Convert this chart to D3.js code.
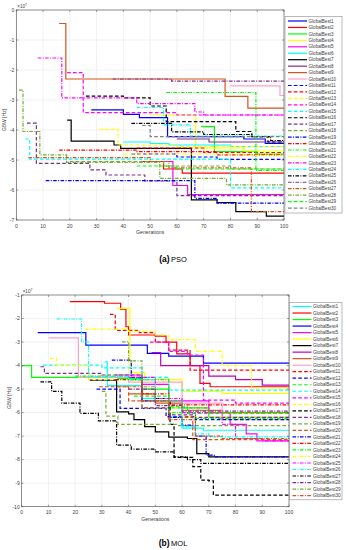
<!DOCTYPE html>
<html>
<head>
<meta charset="utf-8">
<script src="https://cdn.jsdelivr.net/npm/d3@7"></script>
<style>
  body { margin: 0; background: #fff; }
  svg { display: block; }
  text { font-family: "Liberation Sans", Arial, sans-serif; }
</style>
</head>
<body>
<div id="graph"></div>
<script>
// ---- data: [generation, GBW (x1e7 Hz)] breakpoints ----
var genTicks = [0, 10, 20, 30, 40, 50, 60, 70, 80, 90, 100];
var psoYTicks = [0, -1, -2, -3, -4, -5, -6, -7];
var molYTicks = [-1, -2, -3, -4, -5, -6, -7, -8, -9, -10];
var seriesNames = d3.range(1, 31).map(function(i) { return "GlobalBest" + i; });

var psoBest = [
  [[28,-3.33],[40,-3.48],[46,-3.59],[56.5,-4.22],[85,-4.3],[93,-4.45]],
  [[47,-5.05],[55,-5.3],[62,-5.44]],
  [[69,-3.89],[74,-4.72],[90,-4.8]],
  [[50,-3.5],[67,-4.6],[85,-4.7]],
  [[55,-5.05],[58.5,-5.85],[64,-6.15]],
  [[40,-4.4],[50,-4.45],[57,-4.5],[80,-4.55]],
  [[19,-3.67],[20.5,-4.37],[36.5,-4.5],[39,-4.61],[65.4,-6.33],[75,-6.42],[82,-6.72],[93.4,-6.87]],
  [[60,-4.3],[72,-4.4]],
  [[16,-0.45],[18.5,-2.3],[78,-2.88],[86.5,-3.27]],
  [[80,-2.53],[98.5,-2.85]],
  [[43,-4.8],[60,-4.9],[75,-4.98]],
  [[45,-4.6],[70,-4.75]],
  [[31,-3.98],[38,-4.5],[60,-4.55]],
  [[19,-2.09],[25,-3.42],[60,-3.5]],
  [[3.3,-4.3],[5,-4.97],[80,-5.93]],
  [[26,-2.87],[40,-2.93],[50,-3.2],[56,-3.72],[82,-4.05],[88,-4.22],[94,-4.4]],
  [[4,-3.77],[7.5,-5.11],[27.5,-5.33],[33.5,-5.5],[48,-5.7],[60,-6.19]],
  [[20,-5.05],[55,-5.2],[80,-5.3]],
  [[11,-5.69],[66.7,-6.28],[75,-6.44]],
  [[16,-4.67],[45,-4.72],[75,-4.83]],
  [[56,-2.75],[89.5,-5.35]],
  [[40,-4.8],[85,-4.85]],
  [[8,-1.6],[17,-2.93],[45,-3.12],[66.7,-3.4],[70,-3.5]],
  [[45,-3.25],[55,-3.83],[65,-4.2]],
  [[43,-3.78],[58,-4.06],[70,-4.15],[88,-4.22],[95,-4.35]],
  [[36,-2.3],[58,-2.37]],
  [[4.5,-4.92],[50,-5.05],[57,-5.26],[87.8,-6.72]],
  [[1,-2.67],[2.5,-4.05],[8.8,-4.83],[18.8,-5.08],[53.6,-5.61],[78.5,-5.83]],
  [[45,-5.2],[60,-5.3]],
  [[47,-3.85],[50,-4.22]]
];

var molBest = [
  [[31,-3.84],[32,-4.85],[45,-5.4],[55,-6.2],[60,-6.66],[68,-6.75]],
  [[18,-1.28],[31,-1.35],[37,-1.6],[39,-2.35],[40,-2.7],[50,-2.75],[54,-3.0],[58,-3.5],[63,-4.0],[66.7,-4.76],[70.5,-4.9]],
  [[0,-4.0],[3.7,-4.5],[36,-4.55],[45,-5.0],[55,-5.8],[70,-6.2]],
  [[6,-2.6],[24,-3.13],[47,-3.48],[55,-3.6],[68,-3.9]],
  [[35,-4.4],[45,-4.8],[55,-5.5],[70,-6.0],[78,-6.5],[84,-6.9],[88,-7.2]],
  [[35.5,-1.57],[40.5,-4.3],[46,-4.6],[60,-5.1],[75,-5.18]],
  [[25.5,-4.62],[35.5,-5.97],[40,-6.05],[42,-6.3],[46,-6.6],[50,-6.82],[55,-7.04],[62,-7.1],[65.5,-7.74],[70,-7.88]],
  [[48.6,-3.45],[52,-4.0],[60,-4.0],[70,-4.45],[80,-4.6],[90,-4.83]],
  [[40,-5.2],[50,-5.6],[60,-5.9],[75,-6.0]],
  [[10,-2.82],[21.2,-4.5],[40,-4.7],[60,-5.6],[75,-6.3]],
  [[33,-1.82],[35,-2.5],[44,-2.6],[50,-3.0],[55,-3.34],[63,-4.19]],
  [[28,-5.0],[36.8,-5.82],[54,-6.18],[65,-6.3]],
  [[42,-5.3],[55,-5.75],[62,-6.03]],
  [[8,-3.98],[30,-4.1],[45,-4.5],[55,-5.04]],
  [[48,-3.0],[55,-3.4],[62,-3.55],[68,-5.47],[80,-5.6]],
  [[10.6,-3.69],[13,-4.0],[25,-4.6],[45,-5.8],[60,-6.2]],
  [[50,-5.4],[55.5,-6.5],[57,-7.9],[64,-8.3],[67,-8.87],[70,-8.9],[71.7,-9.51]],
  [[7,-4.05],[8.5,-4.33],[30,-4.4],[45,-5.8],[55,-6.1],[65,-6.2]],
  [[30,-5.1],[31.5,-6.15],[36,-6.5],[58,-6.55]],
  [[29,-4.9],[40,-5.5],[55,-6.2],[64,-7.15]],
  [[33.7,-3.77],[41,-4.5],[45,-5.5],[55,-6.2],[60,-6.53],[65,-7.0],[69,-7.81],[72,-7.88]],
  [[35,-4.6],[45,-5.2],[55,-5.67]],
  [[20,-4.45],[40,-4.6],[55,-6.0],[65,-6.25]],
  [[23.7,-2.45],[40,-2.55],[50,-2.7],[55,-2.9],[65,-3.4],[75,-4.0],[86,-4.96]],
  [[40,-4.5],[50,-5.4],[60,-6.0],[75,-6.5],[80,-7.1],[90,-7.2]],
  [[13,-2.02],[22.4,-2.99],[25,-4.48],[40,-4.6],[50,-5.5],[60,-6.6],[65,-6.9],[70,-7.03]],
  [[7,-4.69],[11.2,-5.1],[15,-5.6],[21.8,-6.03],[28.7,-6.35],[35.5,-7.38],[41,-7.55],[50,-7.67],[57,-7.88],[62,-8.0],[67,-8.16]],
  [[40,-5.0],[50,-5.7],[60,-5.94]],
  [[37.5,-2.99],[40,-3.8],[45,-4.9],[50,-5.5],[60,-5.8],[70,-6.0]],
  [[36,-4.9],[45,-5.5],[55,-6.3],[65,-7.0],[75,-7.1]]
];

// ---- styles ----
var C = {b:"#0000ff", r:"#ff0000", g:"#00ff00", y:"#ffff00", m:"#ff00ff", c:"#00ffff",
         k:"#000000", p:"#7e2f8e", o:"#d95319", pk:"#ffa0c8", ol:"#77ac30", gr:"#808080", mp:"#bf00bf"};
var psoColors = [C.b,C.r,C.g,C.y,C.m,C.c,C.k,C.p,C.o,C.pk,
                 C.b,C.r,C.y,C.m,C.c,C.k,C.p,C.ol,
                 C.b,C.r,C.g,C.y,C.m,C.c,C.k,C.p,C.o,C.ol,
                 C.g,C.gr];
var psoStyles = "ssssssssssdddddddd" + "aaaaaaaaaa" + "dd";
var molColors = [C.c,C.r,C.g,C.b,C.m,C.y,C.k,C.mp,C.o,C.pk,
                 C.r,C.b,C.g,C.c,C.m,C.y,C.k,C.p,C.ol,C.o,
                 C.b,C.r,C.g,C.y,C.m,C.c,C.k,C.p,C.ol,C.o];
var molStyles = "ssssssssss" + "dddddddddd" + "aaaaaaaaaa";
var dashFor = {s: null, d: "3.6,2.2", a: "3.6,1.4,1,1.4"};

var svg = d3.select("#graph").append("svg").attr("width", 346).attr("height", 550);

function drawPanel(cfg) {
  var x = d3.scaleLinear().domain([0, 100]).range([cfg.left, cfg.right]);
  var y = d3.scaleLinear().domain(cfg.yDomain).range([cfg.bottom, cfg.top]);
  var g = svg.append("g");

  // grid
  g.selectAll(".vg").data(genTicks).enter().append("line")
    .attr("x1", function(d) { return x(d); }).attr("x2", function(d) { return x(d); })
    .attr("y1", cfg.top).attr("y2", cfg.bottom)
    .attr("stroke", "#e8e8e8").attr("stroke-width", 0.6);
  g.selectAll(".hg").data(cfg.yTicks).enter().append("line")
    .attr("x1", cfg.left).attr("x2", cfg.right)
    .attr("y1", function(d) { return y(d); }).attr("y2", function(d) { return y(d); })
    .attr("stroke", "#e8e8e8").attr("stroke-width", 0.6);

  // series
  var line = d3.line()
    .x(function(d) { return x(d[0]); })
    .y(function(d) { return y(d[1]); })
    .curve(d3.curveStepAfter);
  cfg.data.forEach(function(pts, i) {
    var full = pts.concat([[100, pts[pts.length - 1][1]]]);
    g.append("path")
      .attr("d", line(full))
      .attr("fill", "none")
      .attr("stroke", cfg.colors[i])
      .attr("stroke-width", 1.2)
      .attr("stroke-dasharray", dashFor[cfg.styles[i]]);
  });

  // box + ticks
  g.append("rect").attr("x", cfg.left).attr("y", cfg.top)
    .attr("width", cfg.right - cfg.left).attr("height", cfg.bottom - cfg.top)
    .attr("fill", "none").attr("stroke", "#4d4d4d").attr("stroke-width", 0.6);
  genTicks.forEach(function(t) {
    g.append("line").attr("x1", x(t)).attr("x2", x(t)).attr("y1", cfg.bottom).attr("y2", cfg.bottom - 2)
      .attr("stroke", "#4d4d4d").attr("stroke-width", 0.5);
    g.append("line").attr("x1", x(t)).attr("x2", x(t)).attr("y1", cfg.top).attr("y2", cfg.top + 2)
      .attr("stroke", "#4d4d4d").attr("stroke-width", 0.5);
  });
  cfg.yTicks.forEach(function(t) {
    g.append("line").attr("x1", cfg.left).attr("x2", cfg.left + 2).attr("y1", y(t)).attr("y2", y(t))
      .attr("stroke", "#4d4d4d").attr("stroke-width", 0.5);
    g.append("line").attr("x1", cfg.right).attr("x2", cfg.right - 2).attr("y1", y(t)).attr("y2", y(t))
      .attr("stroke", "#4d4d4d").attr("stroke-width", 0.5);
  });

  // tick labels
  g.selectAll(".xl").data(genTicks).enter().append("text")
    .attr("x", function(d) { return x(d); }).attr("y", cfg.bottom + 7.5)
    .attr("text-anchor", "middle").attr("font-size", "5px").attr("fill", "#404040")
    .text(function(d) { return d; });
  g.selectAll(".yl").data(cfg.yTicks).enter().append("text")
    .attr("x", cfg.left - 2).attr("y", function(d) { return y(d) + 1.8; })
    .attr("text-anchor", "end").attr("font-size", "5px").attr("fill", "#404040")
    .text(function(d) { return d === 0 ? "0" : "-" + Math.abs(d); });

  // exponent
  var ex = g.append("text").attr("x", cfg.left + 1).attr("y", cfg.top - 2.5)
    .attr("font-size", "4.6px").attr("fill", "#404040");
  ex.append("tspan").text("\u00d710");
  ex.append("tspan").attr("font-size", "3.4px").attr("dy", -1.8).text("7");

  // axis titles
  g.append("text").attr("x", (cfg.left + cfg.right) / 2).attr("y", cfg.bottom + 14)
    .attr("text-anchor", "middle").attr("font-size", "5.2px").attr("fill", "#404040")
    .text("Generations");
  g.append("text")
    .attr("transform", "translate(" + (cfg.left - 10.5) + "," + cfg.yLabelMid + ") rotate(-90)")
    .attr("text-anchor", "middle").attr("font-size", "5px").attr("fill", "#404040")
    .text("GBW [Hz]");

  // legend
  var L = cfg.legend;
  g.append("rect").attr("x", L.x).attr("y", L.y).attr("width", L.w).attr("height", L.h)
    .attr("fill", "#fff").attr("stroke", "#8c8c8c").attr("stroke-width", 0.6);
  seriesNames.forEach(function(name, i) {
    var ry = L.row0 + i * L.step;
    g.append("line").attr("x1", L.x + 3).attr("x2", L.x + 22).attr("y1", ry).attr("y2", ry)
      .attr("stroke", cfg.colors[i]).attr("stroke-width", 1.2)
      .attr("stroke-dasharray", dashFor[cfg.styles[i]]);
    g.append("text").attr("x", L.x + 23.5).attr("y", ry + 1.6)
      .attr("font-size", "4.6px").attr("fill", "#404040").text(name);
  });

  // caption
  var cap = svg.append("text").attr("x", 173).attr("y", cfg.captionY)
    .attr("text-anchor", "middle").attr("font-family", "'Liberation Serif', 'DejaVu Serif', serif")
    .attr("font-size", "8.5px").attr("fill", "#000");
  cap.append("tspan").attr("font-weight", "bold").text(cfg.tag);
  cap.append("tspan").attr("dx", 1.5).attr("font-size", "7.5px").text(cfg.method);
}

drawPanel({
  left: 16.3, right: 284, top: 10, bottom: 220, yDomain: [-7, 0], yTicks: psoYTicks,
  yLabelMid: 120, data: psoBest, colors: psoColors, styles: psoStyles,
  legend: {x: 285, y: 16.5, w: 57, h: 196.5, row0: 21, step: 6.45},
  captionY: 261.5, tag: "(a)", method: "PSO"
});

drawPanel({
  left: 21.7, right: 289, top: 295, bottom: 506.7, yDomain: [-10, -1], yTicks: molYTicks,
  yLabelMid: 398, data: molBest, colors: molColors, styles: molStyles,
  legend: {x: 289.5, y: 302.3, w: 52.5, h: 197.5, row0: 306.5, step: 6.52},
  captionY: 546, tag: "(b)", method: "MOL"
});
</script>
</body>
</html>
